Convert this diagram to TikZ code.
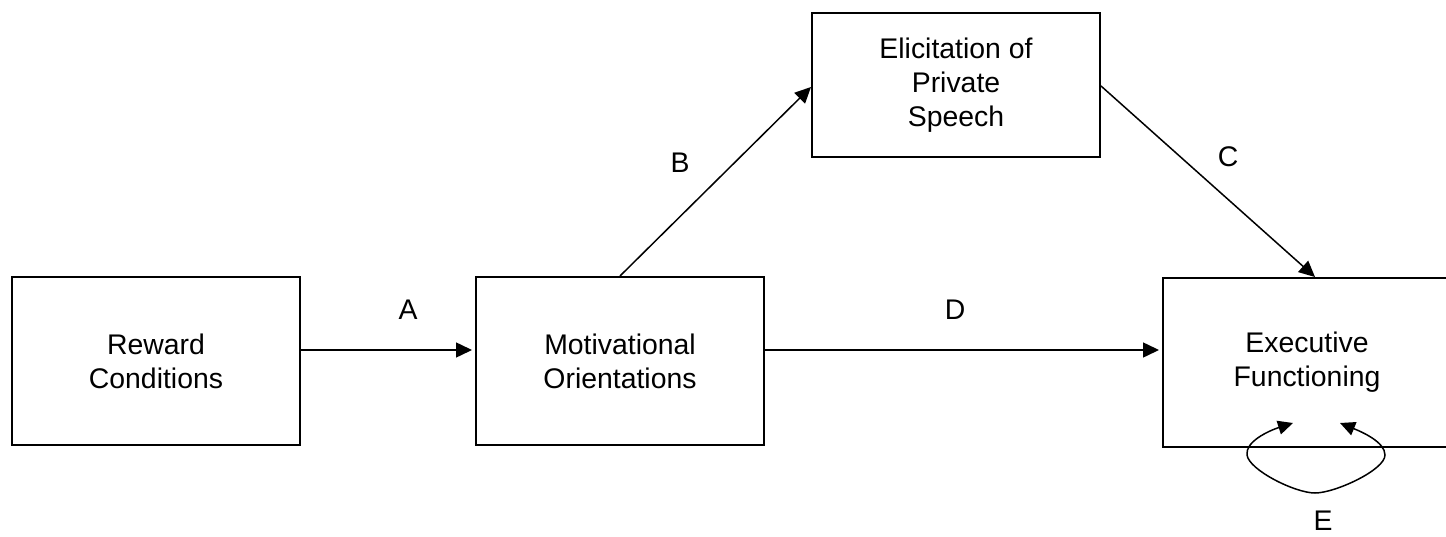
\documentclass[tikz,border=0pt]{standalone}
\usepackage{fontspec}
\setmainfont{Liberation Sans}
\usetikzlibrary{arrows.meta,calc}
\begin{document}
\begin{tikzpicture}[x=1bp,y=-1bp,
  box/.style={draw,line width=2bp,minimum width=288bp,minimum height=168bp,inner sep=0pt,align=center,
    font=\fontsize{28.5}{34}\selectfont},
  lbl/.style={font=\fontsize{28.5}{34}\selectfont,inner sep=0pt},
  tip/.style={Triangle[length=16bp,width=15bp]},
  conn/.style={line width=1.5bp,-{Triangle[length=16bp,width=15bp]}}]
\useasboundingbox (0,0) rectangle (1446,537);
\clip (0,0) rectangle (1446,537);
\node[box] (rew) at (156,361) {Reward\\Conditions};
\node[box] (mot) at (620,361) {Motivational\\Orientations};
\node[box,minimum height=144bp] (eli) at (956,85) {Elicitation of\\Private\\Speech};
\node[box,minimum height=169bp] (exe) at (1307,362.5) {Executive\\Functioning};
\draw[conn,shorten >=3bp] (rew.east |- 0,350) -- (mot.west |- 0,350);
\draw[conn,shorten >=3bp] (mot.east |- 0,350) -- (exe.west |- 0,350);
\draw[conn] (mot.north) -- ($(eli.west)+(0,2)$);
\draw[conn] ($(eli.east)+(0,1)$) -- ($(exe.north)+(8,0)$);
\coordinate (lt) at ($(exe.south)+(-14,-25)$);
\coordinate (rt) at ($(exe.south)+(33,-25)$);
\draw[line width=1.5bp,{Triangle[length=15bp,width=14bp]}-{Triangle[length=15bp,width=14bp]}]
  (lt) .. controls (1268,431) and (1245,442) .. (1247,455)
  .. controls (1249,470) and (1295,493) .. (1315,493)
  .. controls (1335,493) and (1385,470) .. (1385,455)
  .. controls (1385,442) and (1362,432) .. (rt);
\node[lbl] (la) at (408,310) {A};
\node[lbl] (ld) at (955,310) {D};
\node[lbl] (lb) at (680,163) {B};
\node[lbl] (lc) at (1228,157) {C};
\node[lbl] (le) at (1323,521) {E};
\end{tikzpicture}
\end{document}
